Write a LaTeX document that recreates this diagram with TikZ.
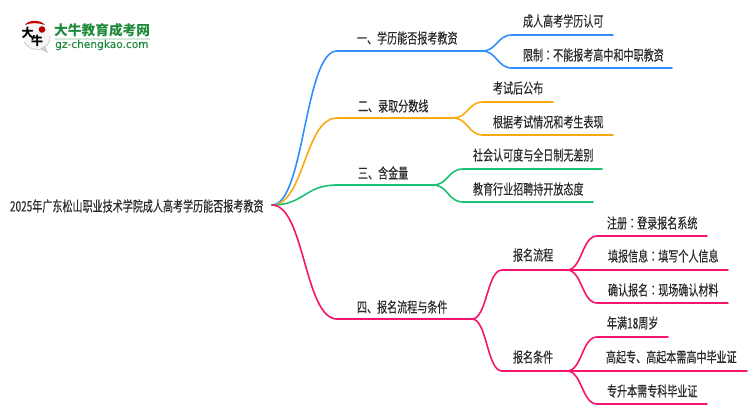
\documentclass[tikz,border=0pt]{standalone}
\usepackage{fontspec}
\setmainfont{Noto Sans CJK SC}
\newfontfamily\labfont[FakeBold=0.3]{Noto Sans CJK SC}
\newfontfamily\tcfont[FakeBold=0.3]{Noto Sans CJK TC}
\newfontfamily\latinlogo[FakeBold=0.3]{DejaVu Sans}
\definecolor{cblue}{HTML}{2F8FFF}
\definecolor{corange}{HTML}{F9AA12}
\definecolor{cgreen}{HTML}{19C272}
\definecolor{cpink}{HTML}{F5156C}
\definecolor{ctext}{HTML}{2A2A2A}
\definecolor{clogo}{HTML}{1E8A3C}
\newcommand{\lbl}[1]{\scalebox{1}[1.42]{#1}}
\newcommand{\colonmark}{{\tcfont ：}}
\tikzset{
  x=1pt,y=-1pt,
  lab/.style={anchor=west,inner sep=0pt,outer sep=0pt,text=ctext,font=\labfont\fontsize{10.05}{10}\selectfont},
  wire/.style={line width=1.6pt,line cap=round},
  blueline/.style={wire,cblue},
  orangeline/.style={wire,corange},
  greenline/.style={wire,cgreen},
  pinkline/.style={wire,cpink},
}
\newcommand{\curve}[4]{%
  \draw[#1] (#2) .. controls ($(#2)!0.5!(#2-|#3)$) and ($(#3)!0.5!(#2|-#3)$) .. (#3) -- (#4);}
\usetikzlibrary{calc}
\begin{document}
\begin{tikzpicture}
\useasboundingbox (0,0) rectangle (750,410);
% junctions
\coordinate (root) at (272,205);
\coordinate (a) at (337,51);   \coordinate (ae) at (482,51);
\coordinate (b) at (337,118);  \coordinate (be) at (453,118);
\coordinate (c) at (337,185);  \coordinate (ce) at (433,185);
\coordinate (d) at (337,319);  \coordinate (de) at (472,319);
\coordinate (a1) at (512,35);  \coordinate (a1e) at (613,35);
\coordinate (a2) at (512,68);  \coordinate (a2e) at (672,68);
\coordinate (b1) at (483,102); \coordinate (b1e) at (553,102);
\coordinate (b2) at (483,135); \coordinate (b2e) at (613,135);
\coordinate (c1) at (463,169); \coordinate (c1e) at (602,169);
\coordinate (c2) at (463,202); \coordinate (c2e) at (593,202);
\coordinate (p) at (502,270);  \coordinate (pe) at (567,270);
\coordinate (q) at (502,371);  \coordinate (qe) at (567,371);
\coordinate (p1) at (597,236); \coordinate (p1e) at (707,236);
\coordinate (p2) at (597,270); \coordinate (p2e) at (728,270);
\coordinate (p3) at (597,303); \coordinate (p3e) at (728,303);
\coordinate (q1) at (597,337); \coordinate (q1e) at (668,337);
\coordinate (q2) at (597,371); \coordinate (q2e) at (747,371);
\coordinate (q3) at (597,404); \coordinate (q3e) at (707,404);
% connectors
\curve{blueline}{root}{a}{ae}
\curve{orangeline}{root}{b}{be}
\curve{greenline}{root}{c}{ce}
\curve{pinkline}{root}{d}{de}
\curve{blueline}{ae}{a1}{a1e}
\curve{blueline}{ae}{a2}{a2e}
\curve{orangeline}{be}{b1}{b1e}
\curve{orangeline}{be}{b2}{b2e}
\curve{greenline}{ce}{c1}{c1e}
\curve{greenline}{ce}{c2}{c2e}
\curve{pinkline}{de}{p}{pe}
\curve{pinkline}{de}{q}{qe}
\curve{pinkline}{pe}{p1}{p1e}
\curve{pinkline}{pe}{p2}{p2e}
\curve{pinkline}{pe}{p3}{p3e}
\curve{pinkline}{qe}{q1}{q1e}
\curve{pinkline}{qe}{q2}{q2e}
\curve{pinkline}{qe}{q3}{q3e}
% labels
\node[lab] (nroot) at (10,206) {\lbl{2025年广东松山职业技术学院成人高考学历能否报考教资}};
\node[lab] (na) at (357,38) {\lbl{一、学历能否报考教资}};
\node[lab] (nb) at (358,106) {\lbl{二、录取分数线}};
\node[lab] (nc) at (358,173) {\lbl{三、含金量}};
\node[lab] (nd) at (357,307) {\lbl{四、报名流程与条件}};
\node[lab] (na1) at (523,21) {\lbl{成人高考学历认可}};
\node[lab] (na2) at (523,55) {\lbl{限制\colonmark 不能报考高中和中职教资}};
\node[lab] (nb1) at (493,88) {\lbl{考试后公布}};
\node[lab] (nb2) at (493,122) {\lbl{根据考试情况和考生表现}};
\node[lab] (nc1) at (473,155) {\lbl{社会认可度与全日制无差别}};
\node[lab] (nc2) at (473,189) {\lbl{教育行业招聘持开放态度}};
\node[lab] (np) at (513,255) {\lbl{报名流程}};
\node[lab] (nq) at (513,357) {\lbl{报名条件}};
\node[lab] (np1) at (607,223) {\lbl{注册\colonmark 登录报名系统}};
\node[lab] (np2) at (608,256) {\lbl{填报信息\colonmark 填写个人信息}};
\node[lab] (np3) at (608,290) {\lbl{确认报名\colonmark 现场确认材料}};
\node[lab] (nq1) at (607,323) {\lbl{年满18周岁}};
\node[lab] (nq2) at (606,357) {\lbl{高起专、高起本需高中毕业证}};
\node[lab] (nq3) at (607,391) {\lbl{专升本需专科毕业证}};
% logo
\fill[gray!7] (36,36) circle (14);
\draw[gray!45,line width=0.6pt] (50,36) .. controls (50,44) and (46,48) .. (40,49.5) .. controls (33,50) and (27,47) .. (24,42);
\fill[gray!40] (40,49) -- (48,53) -- (45,46) -- cycle;
\fill[red!75!black] (25,25) .. controls (28,19.5) and (41,19.5) .. (45,25) .. controls (38,22.5) and (31,22.5) .. (25,25) -- cycle;
\fill[red!70!black] (42,29.5) circle (3.3);
\node[inner sep=0pt,font=\fontsize{12}{12}\selectfont\bfseries] (l1) at (27.5,33) {大};
\node[inner sep=0pt,font=\fontsize{12}{12}\selectfont\bfseries] (l2) at (37,41) {牛};
\node[anchor=west,inner sep=0pt,text=clogo,font=\fontsize{13.7}{14}\selectfont\bfseries] (l3) at (54,30) {大牛教育成考网};
\fill[clogo!20] (55,38) rectangle (150,39.5);
\node[anchor=west,inner sep=0pt,text=clogo,font=\latinlogo\fontsize{10.6}{10}\selectfont] (l4) at (55,45) {gz-chengkao.com};
\end{tikzpicture}
\end{document}
